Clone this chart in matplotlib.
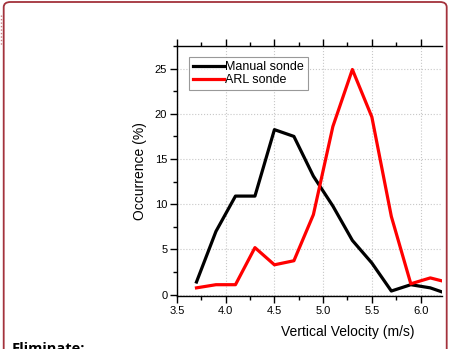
import matplotlib
matplotlib.use("Agg")
import matplotlib.pyplot as plt
from matplotlib.patches import FancyBboxPatch
from matplotlib.lines import Line2D
from matplotlib.ticker import MultipleLocator

velocity = [3.7, 3.9, 4.1, 4.3, 4.5, 4.7, 4.9, 5.1, 5.3, 5.5, 5.7, 5.9, 6.1, 6.3]
manual_sonde = [1.4, 7.0, 10.9, 10.9, 18.25, 17.5, 13.1, 9.8, 6.0, 3.5, 0.4, 1.1, 0.75, 0.0]
arl_sonde = [0.75, 1.1, 1.1, 5.2, 3.3, 3.75, 8.85, 18.6, 24.9, 19.65, 8.65, 1.2, 1.85, 1.3]

plt.rcParams['font.family'] = ['Liberation Sans', 'DejaVu Sans']

fig = plt.figure(figsize=(4.49, 3.49), dpi=100)
ax = fig.add_axes([177/449, 1-296/349, (442-177)/449, (296-46)/349])

ax.plot(velocity, manual_sonde, color="black", lw=2.3, label="Manual sonde")
ax.plot(velocity, arl_sonde, color="#ff0000", lw=2.3, label="ARL sonde")

ax.set_xlim(3.5, 6.22)
ax.set_ylim(-0.15, 27.5)
ax.xaxis.set_major_locator(MultipleLocator(0.5))
ax.xaxis.set_minor_locator(MultipleLocator(0.25))
ax.yaxis.set_major_locator(MultipleLocator(5))
ax.yaxis.set_minor_locator(MultipleLocator(2.5))
ax.grid(True, which="major", color="#c8c8c8", ls=":", lw=0.8)

ax.spines["right"].set_visible(False)
for s in ["left", "bottom", "top"]:
    ax.spines[s].set_linewidth(1.0)
ax.tick_params(which="both", direction="out", top=True, labeltop=False, right=False,
               labelsize=8, width=1.0, pad=2)
ax.tick_params(which="major", length=5)
ax.tick_params(which="minor", length=3)

ax.set_xlabel("Vertical Velocity (m/s)", fontsize=10)
ax.xaxis.set_label_coords(0.645, -0.115)
ax.set_ylabel("Occurrence (%)", fontsize=10, labelpad=6)

leg = ax.legend(loc="upper left", bbox_to_anchor=(0.045, 0.955), fontsize=9,
                frameon=True, fancybox=False, edgecolor="#808080",
                handlelength=2.5, handletextpad=0.1, borderpad=0.3,
                labelspacing=0.1, borderaxespad=0)
leg.get_frame().set_linewidth(0.8)

# heading of the next section, running off the bottom edge
fig.text(12/449, 1-353/349, "Eliminate:", fontsize=10.5, fontweight="bold",
         family=["Open Sans", "DejaVu Sans"], ha="left", va="baseline")

frame = FancyBboxPatch((3.7/449, -0.2), 443/449, 1-2/349+0.2,
                       boxstyle="round,pad=0,rounding_size=0.015",
                       transform=fig.transFigure, fill=False,
                       edgecolor="#a3323c", lw=1.3, clip_on=False)
fig.patches.append(frame)
fig.lines.append(Line2D([1.2/449, 1.2/449], [1-15/349, 1-45/349], transform=fig.transFigure,
                        color="#c77a80", lw=1.0, ls=(0, (1, 1.5))))

fig.savefig("out.png", dpi=100)
